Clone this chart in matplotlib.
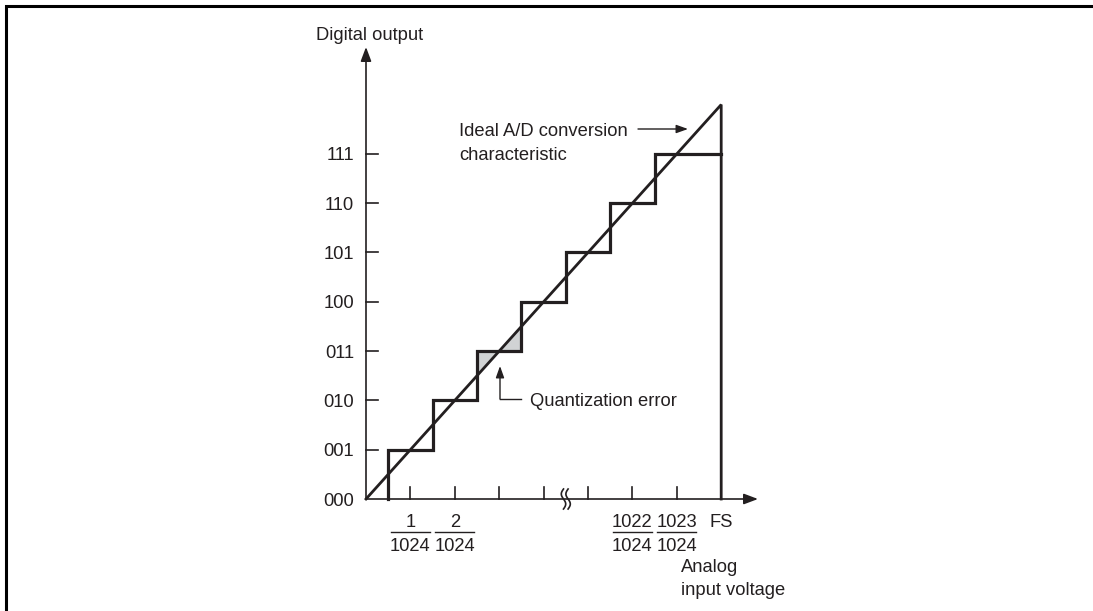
import numpy as np
import matplotlib.pyplot as plt
from matplotlib.patches import Polygon

plt.rcParams['font.family'] = ['Liberation Sans', 'DejaVu Sans']

# ── Data ──────────────────────────────────────────────────────────────────────
codes = ["000", "001", "010", "011", "100", "101", "110", "111"]
levels = [0, 1, 2, 3, 4, 5, 6, 7]
x_ticks = [1, 2, 3, 4, 5, 6, 7]
frac_pos = [1, 2, 6, 7]
frac_num = ["1", "2", "1022", "1023"]
frac_den = "1024"
full_scale = 8
err_level = 3
break_at = 4.5

# ── Layout (pixels of a 1093x611 canvas) ──────────────────────────────────────
W, H = 1093, 611
OX, OY = 366, 499          # origin of the chart
UX, UY = 44.4, 49.3        # pixels per unit
INK = "#231f20"
FS = 13.2
HALF_CAP = 6.6             # half the cap height in pixels

def px(x):
    return (x - OX) / UX

def py(y):
    return (OY - y) / UY

fig = plt.figure(figsize=(W / 100, H / 100), dpi=100)
ax = fig.add_axes([0, 0, 1, 1])
ax.set_xlim(px(0), px(W))
ax.set_ylim(py(H), py(0))
ax.axis("off")

def label(x, y_px, s, ha="left"):
    # y_px is the visual middle of the capitals
    return ax.text(x, py(y_px + HALF_CAP), s, ha=ha, va="baseline",
                   fontsize=FS, color=INK)

# frame
ax.plot([px(6), px(6), px(W)], [py(H), py(6), py(6)], color="black", lw=2.2,
        solid_joinstyle="miter", clip_on=False)

# axes with arrows
arrow = dict(arrowstyle="-|>,head_length=0.85,head_width=0.32", lw=1.2,
             color=INK, shrinkA=0, shrinkB=0, mutation_scale=10)
ax.annotate("", xy=(0, py(47)), xytext=(0, 0), arrowprops=arrow)
ax.annotate("", xy=(px(758), 0), xytext=(0, 0), arrowprops=arrow)

# y ticks + code labels
for lv, code in zip(levels, codes):
    if lv > 0:
        ax.plot([0, 12 / UX], [lv, lv], color=INK, lw=1.2)
    label(px(354), OY - lv * UY, code, ha="right")

# x ticks
for xt in x_ticks:
    ax.plot([xt, xt], [0, 12 / UY], color=INK, lw=1.2)

# axis break
ax.plot([break_at - 2 / UX, break_at + 2 / UX], [0, 0], color="white", lw=3)
t = np.linspace(-1, 1, 40)
for off in (-2.3, 2.3):
    ax.plot(break_at + (off - 2.2 * np.sin(np.pi * t)) / UX, t * 10 / UY,
            color=INK, lw=1.2)

# fraction labels
for xp, num in zip(frac_pos, frac_num):
    label(xp, 520, num, ha="center")
    label(xp, 544, frac_den, ha="center")
    ax.plot([xp - 19.5 / UX, xp + 19.5 / UX], [py(532), py(532)], color=INK, lw=1.0)
label(full_scale, 520, "FS", ha="center")
label(px(681), 565, "Analog")
label(px(681), 588, "input voltage")
label(px(370), 33, "Digital output", ha="center")

# quantization error shading
q = err_level
tri1 = Polygon([(q - 0.5, q - 0.5), (q - 0.5, q), (q, q)], closed=True,
               facecolor="#d1d3d4", edgecolor="none")
tri2 = Polygon([(q, q), (q + 0.5, q), (q + 0.5, q + 0.5)], closed=True,
               facecolor="#d1d3d4", edgecolor="none")
ax.add_patch(tri1)
ax.add_patch(tri2)

# staircase
sx, sy = [], []
for lv in levels[1:]:
    sx += [lv - 0.5, lv - 0.5]
    sy += [lv - 1, lv]
sx.append(full_scale)
sy.append(levels[-1])
ax.plot(sx, sy, color=INK, lw=2.3, solid_joinstyle="miter")

# ideal characteristic
ax.plot([0, full_scale, full_scale], [0, full_scale, 0], color=INK, lw=2.0,
        solid_joinstyle="miter")

# annotations
small = dict(arrowstyle="-|>,head_length=0.7,head_width=0.25", lw=1.0,
             color=INK, shrinkA=0, shrinkB=0, mutation_scale=10)
ax.plot([px(521), px(500)], [py(399), py(399)], color=INK, lw=1.0)
ax.annotate("", xy=(px(500), py(366)), xytext=(px(500), py(399)), arrowprops=small)
label(px(530), 399, "Quantization error")

ax.annotate("", xy=(px(688), py(129)), xytext=(px(638), py(129)), arrowprops=small)
first = label(px(628), 129, "Ideal A/D conversion", ha="right")
second = label(px(462), 153, "characteristic")

# align second line with the left edge of the first
fig.canvas.draw()
left_px = first.get_window_extent(fig.canvas.get_renderer()).x0
second.set_x(px(left_px))

fig.savefig("out.png", dpi=100)
